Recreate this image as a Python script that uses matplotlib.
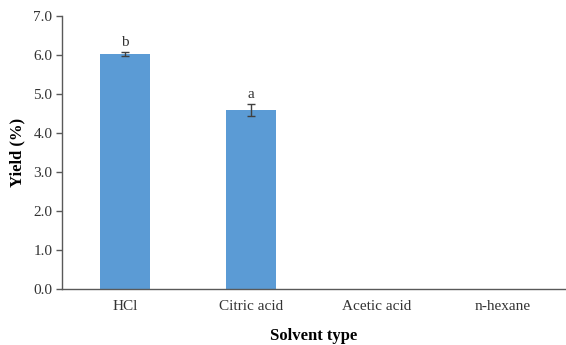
import matplotlib
matplotlib.use("Agg")
import matplotlib.pyplot as plt
import numpy as np

solvents = ["HCl", "Citric acid", "Acetic acid", "n-hexane"]
yields = [6.02, 4.58, 0.0, 0.0]
errors = [0.05, 0.15, 0.0, 0.0]
letters = ["b", "a", "", ""]

plt.rcParams['font.family'] = ['Liberation Serif', 'DejaVu Serif']

fig = plt.figure(figsize=(5.66, 3.45), dpi=100)
ax = fig.add_axes([0.1095, 0.162, 0.8905, 0.792])

x = np.arange(len(solvents))
ax.bar(x, yields, width=0.4, color='#5B9BD5', zorder=2)
for xi, v, e, lab in zip(x, yields, errors, letters):
    if e > 0:
        ax.errorbar(xi, v, yerr=e, fmt='none', ecolor='#404040', elinewidth=1,
                    capsize=3, capthick=1, zorder=3)
    if lab:
        ax.text(xi, v + e + 0.08, lab, ha='center', va='bottom', fontsize=11, color='#333333')

ax.set_xlim(-0.5, len(solvents) - 0.5)
ax.set_ylim(0, 7)
ax.set_yticks(np.arange(0, 7.01, 1.0))
ax.set_yticklabels([f"{v:.1f}" for v in np.arange(0, 7.01, 1.0)])
ax.set_xticks(x)
ax.set_xticklabels(solvents)
ax.tick_params(axis='x', length=0, pad=8, labelsize=11, colors='#333333')
ax.tick_params(axis='y', length=4, width=1, direction='out', labelsize=11,
               colors='#333333', pad=3)
ax.tick_params(axis='y', color='#595959')

for s in ['top', 'right']:
    ax.spines[s].set_visible(False)
for s in ['left', 'bottom']:
    ax.spines[s].set_color('#595959')
    ax.spines[s].set_linewidth(1)

ax.set_xlabel("Solvent type", fontsize=12, fontweight='bold', labelpad=11)
ax.set_ylabel("Yield (%)", fontsize=12, fontweight='bold', labelpad=6)

fig.savefig("out.png", dpi=100)
